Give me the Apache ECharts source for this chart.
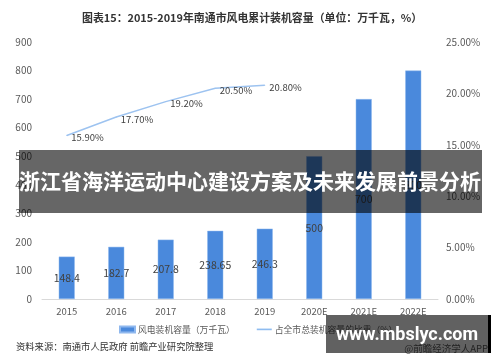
<!DOCTYPE html>
<html><head><meta charset="utf-8">
<script src="https://cdn.jsdelivr.net/npm/echarts@6/dist/echarts.min.js"></script>
<style>html,body{margin:0;padding:0;background:#fff}#c{width:500px;height:362px}</style>
</head><body><div id="c"></div>
<script>
const categories = ['2015','2016','2017','2018','2019','2020E','2021E','2022E'];
const capacity = [148.4, 182.7, 207.8, 238.65, 246.3, 500, 700, 800];
const shareLabels = ['15.90%','17.70%','19.20%','20.50%','20.80%'];
const share = [15.9, 17.7, 19.2, 20.5, 20.8];
const leftTicks = [0,100,200,300,400,500,600,700,800,900];
const rightTicks = ['0.00%','5.00%','10.00%','15.00%','20.00%','25.00%'];
const titleText = '图表15：2015-2019年南通市风电累计装机容量（单位：万千瓦，%）';
const sourceText = '资料来源：南通市人民政府 前瞻产业研究院整理';
const bannerText = '浙江省海洋运动中心建设方案及未来发展前景分析';
const siteText = 'www.mbslyc.com';

const FF = '"Noto Sans CJK SC","Noto Sans",sans-serif';
const chart = echarts.init(document.getElementById('c'), null, {renderer:'canvas'});
chart.setOption({
  animation:false,
  textStyle:{fontFamily:FF},
  title:{text:titleText,left:77,top:7,textStyle:{fontSize:10.9,fontWeight:'bold',color:'#333',fontFamily:FF}},
  grid:{left:42,right:62,top:42,bottom:63},
  legend:{top:320,left:114,itemWidth:15,itemHeight:6,itemGap:22,
    textStyle:{fontSize:8.8,color:'#595959',fontFamily:FF,padding:[0,0,0,-2]},
    data:[{name:'风电装机容量（万千瓦）',icon:'rect'},
          {name:'占全市总装机容量的比重（%）',icon:'path://M0,0H20V2.2H0Z',itemStyle:{color:'#8fbcf0'}}]},
  xAxis:{type:'category',data:categories,
    axisLine:{lineStyle:{color:'#d9d9d9'}},axisTick:{show:false},
    axisLabel:{color:'#595959',fontSize:9.5,margin:8}},
  yAxis:[
    {type:'value',min:0,max:900,interval:100,splitLine:{show:false},axisLine:{show:false},axisTick:{show:false},
     axisLabel:{color:'#595959',fontSize:10,margin:10,formatter:v=>String(leftTicks[v/100])}},
    {type:'value',min:0,max:25,interval:5,splitLine:{show:false},axisLine:{show:false},axisTick:{show:false},
     axisLabel:{color:'#595959',fontSize:10,margin:8,formatter:v=>rightTicks[v/5]}}
  ],
  series:[
    {name:'风电装机容量（万千瓦）',type:'bar',data:capacity,barWidth:16,
     itemStyle:{color:'#4a89dc',borderColor:'#8fb8ee',borderWidth:0.5},
     label:{show:true,position:'inside',color:'#404040',fontSize:10.5,formatter:p=>String(p.value)}},
    {name:'占全市总装机容量的比重（%）',type:'line',yAxisIndex:1,data:share,
     symbol:'circle',symbolSize:1,showSymbol:true,lineStyle:{color:'#9dc3f0',width:1.5},itemStyle:{color:'#9dc3f0'},
     label:{show:true,position:'right',distance:4,offset:[0,2],color:'#404040',fontSize:9.5,
       formatter:p=>shareLabels[p.dataIndex]}}
  ],
  graphic:[
    {type:'text',left:16,top:342,style:{text:sourceText,fontSize:9.3,fill:'#333',fontFamily:FF}},
    {type:'rect',shape:{x:19,y:150,width:463,height:63},style:{fill:'rgba(0,0,0,0.6)'},z:100},
    {type:'text',x:250,y:181,z:101,style:{text:bannerText,fontSize:21,fontWeight:'bold',fill:'#fff',
      align:'center',verticalAlign:'middle',fontFamily:FF}},
    {type:'rect',shape:{x:326,y:315,width:162,height:38},style:{fill:'rgba(0,0,0,0.62)'},z:100},
    {type:'rect',shape:{x:488,y:315,width:3,height:38},style:{fill:'#000'},z:100},
    {type:'text',x:407,y:335,z:101,style:{text:siteText,fontSize:18,fontWeight:'bold',fill:'#fff',
      align:'center',verticalAlign:'middle',fontFamily:'Roboto,sans-serif'}},
    {type:'text',x:488,y:348,z:102,style:{text:'@前瞻经济学人APP',fontSize:9.5,fill:'#222',align:'right',
      verticalAlign:'middle',fontFamily:FF}}
  ]
});
</script></body></html>
